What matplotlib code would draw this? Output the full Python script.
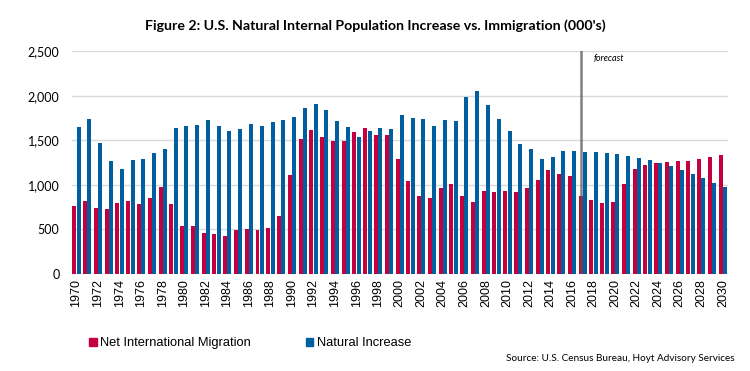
import numpy as np
import matplotlib.pyplot as plt
from matplotlib.patches import Patch

years = list(range(1970, 2031))

# Net International Migration (000's)
migration = [766, 818, 740, 729, 796, 819, 785, 852, 975, 785,
             538, 538, 460, 448, 426, 493, 505, 493, 516, 650,
             1110, 1513, 1614, 1536, 1491, 1491, 1592, 1637, 1558, 1558,
             1289, 1043, 874, 852, 964, 1009, 874, 807, 930, 919,
             930, 919, 964, 1054, 1166, 1121, 1099, 874, 830, 796,
             807, 1009, 1177, 1222, 1244, 1256, 1267, 1267, 1289, 1312,
             1334]

# Natural Increase (000's)
natural = [1648, 1738, 1469, 1267, 1177, 1278, 1289, 1357, 1401, 1637,
           1659, 1670, 1727, 1659, 1603, 1626, 1682, 1659, 1704, 1727,
           1760, 1861, 1906, 1839, 1715, 1648, 1536, 1603, 1637, 1626,
           1783, 1749, 1738, 1659, 1727, 1715, 1984, 2052, 1895, 1738,
           1603, 1457, 1401, 1289, 1312, 1379, 1379, 1368, 1368, 1357,
           1345, 1323, 1300, 1278, 1244, 1211, 1166, 1121, 1076, 1020,
           975]

forecast_year = 2017

red = '#C5003E'
blue = '#005F9E'

fig = plt.figure(figsize=(7.5, 3.71), dpi=100)
ax = fig.add_axes([0.096, 0.262, 0.875, 0.6])

x = np.arange(len(years))
w = 0.37
ax.bar(x - 0.2, migration, width=w, color=red, zorder=3)
ax.bar(x + 0.2, natural, width=w, color=blue, zorder=3)

ax.set_ylim(0, 2500)
ax.set_xlim(-0.42, 60.5)
ax.set_yticks(range(0, 2501, 500))
ax.set_yticklabels([f'{v:,}' for v in range(0, 2501, 500)], fontfamily='Lato', fontsize=9)
ax.set_xticks(x[::2])
ax.set_xticklabels([str(y) for y in years[::2]], rotation=90, fontfamily='Liberation Sans', fontsize=9)
ax.tick_params(length=0, pad=4)
ax.tick_params(axis='y', pad=9)
ax.grid(axis='y', color='#D9D9D9', linewidth=1, zorder=0)
for s in ax.spines.values():
    s.set_visible(False)

# forecast marker
fx = years.index(forecast_year) - 0.18
ax.axvline(fx, ymin=0, ymax=1.0, color='#555555', alpha=0.75, linewidth=1.8, zorder=4)
ax.text(fx + 1.2, 2470, 'forecast', fontsize=6.5, fontstyle='italic', fontfamily='Lato',
        va='top', ha='left')

fig.text(0.5, 0.932, "Figure 2: U.S. Natural Internal Population Increase vs. Immigration (000's)",
         ha='center', va='center', fontsize=10.2, fontweight='bold', fontfamily='Lato')

handles = [Patch(color=red, label='Net International Migration'),
           Patch(color=blue, label='Natural Increase')]
fig.legend(handles=handles, loc='center left', bbox_to_anchor=(0.103, 0.075), ncol=2,
           frameon=False, handlelength=0.6, handleheight=0.6, handletextpad=0.3,
           columnspacing=4.2, prop={'family': 'Liberation Sans', 'size': 9.3})

fig.text(0.979, 0.035, 'Source: U.S. Census Bureau, Hoyt Advisory Services',
         ha='right', va='center', fontsize=7.2, fontfamily='Lato')

fig.savefig('out.png', dpi=100)
